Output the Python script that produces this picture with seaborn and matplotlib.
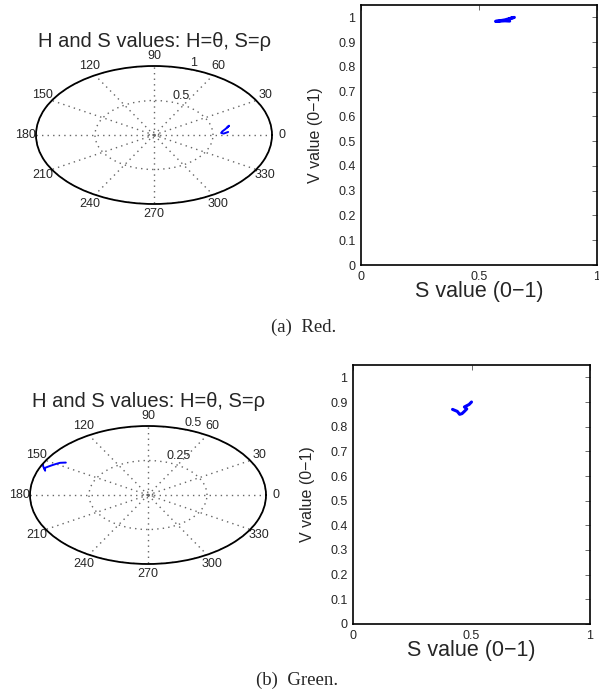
import numpy as np
import pandas as pd
import matplotlib
matplotlib.use("Agg")
import matplotlib.pyplot as plt
import seaborn as sns

# red patch: hue (deg), saturation, value along the track
red_h = [10, 12, 11, 8, 5, 3, 2, 3, 4]
red_s = [0.63, 0.65, 0.64, 0.61, 0.58, 0.57, 0.59, 0.61, 0.63]
red_v = [0.995, 1.0, 0.998, 0.99, 0.985, 0.984, 0.985, 0.986, 0.985]

# green patch
green_h = [146, 147, 148, 150, 152, 154, 156, 158, 155, 153]
green_s = [0.42, 0.43, 0.44, 0.45, 0.46, 0.47, 0.48, 0.47, 0.49, 0.50]
green_v = [0.87, 0.866, 0.862, 0.85, 0.853, 0.862, 0.872, 0.88, 0.89, 0.90]

theta_ticks = list(range(0, 360, 30))
v_ticks = [0, 0.1, 0.2, 0.3, 0.4, 0.5, 0.6, 0.7, 0.8, 0.9, 1]
s_ticks = [0, 0.5, 1]

sns.set_style("white")
plt.rcParams['font.family'] = ['Liberation Sans', 'DejaVu Sans']

BLUE = '#0000ff'
W, H = 599, 699
fig = plt.figure(figsize=(W / 100, H / 100), dpi=100)


def px_rect(x0, y0, x1, y1):
    return [x0 / W, 1 - y1 / H, (x1 - x0) / W, (y1 - y0) / H]


def polar_panel(rect, hue, sat, rmax, rings, ring_labels):
    ax = fig.add_axes(rect, projection='polar')
    df = pd.DataFrame({'theta': np.deg2rad(hue), 'r': sat})
    sns.lineplot(data=df, x='theta', y='r', sort=False, estimator=None,
                 color=BLUE, linewidth=1.4, ax=ax)
    ax.set_aspect('auto')
    ax.set_rlim(0, rmax)
    ax.set_thetagrids(theta_ticks, labels=[str(t) for t in theta_ticks], fontsize=9)
    ax.set_rgrids(rings, labels=ring_labels, angle=72, fontsize=9)
    ax.grid(True, color='#666666', linestyle=(0, (1, 3)), linewidth=1.0)
    ax.spines['polar'].set_color('black')
    ax.spines['polar'].set_linewidth(1.3)
    ax.tick_params(axis='x', pad=-3)
    ax.set_xlabel('')
    ax.set_ylabel('')
    ax.set_title('H and S values: H=\u03b8, S=\u03c1', fontsize=14.5, y=1.18,
                 va='center', pad=0)
    return ax


def sv_panel(rect, sat, val):
    ax = fig.add_axes(rect)
    df = pd.DataFrame({'S': sat, 'V': val})
    sns.lineplot(data=df, x='S', y='V', sort=False, estimator=None,
                 color=BLUE, linewidth=2.2, ax=ax)
    ax.set_xlim(0, 1)
    ax.set_ylim(0, 1.05)
    ax.set_xticks(s_ticks)
    ax.set_xticklabels(['0', '0.5', '1'])
    ax.set_yticks(v_ticks)
    ax.set_yticklabels([('%g' % v) for v in v_ticks])
    ax.tick_params(direction='in', length=3.5, width=0.6, top=True, right=True,
                   labelsize=9, pad=4, color='#555555')
    for sp in ax.spines.values():
        sp.set_color('black')
        sp.set_linewidth(1.2)
    ax.set_xlabel('S value (0\u22121)', fontsize=15.5, labelpad=-1)
    ax.set_ylabel('V value (0\u22121)', fontsize=11.5, labelpad=11)
    return ax


polar_panel(px_rect(36, 66, 272, 204), red_h, red_s, 1.0,
            [0.04, 0.5, 1.0], ['', '0.5', '1'])
sv_panel(px_rect(361, 5, 597, 265), red_s, red_v)

polar_panel(px_rect(30, 426, 266, 564), green_h, green_s, 0.5,
            [0.02, 0.25, 0.5], ['', '0.25', '0.5'])
sv_panel(px_rect(353, 365, 590, 624), green_s, green_v)

fig.text(304 / W, 1 - 327 / H, '(a)  Red.', ha='center', va='center',
         fontsize=13.5, family='Liberation Serif')
fig.text(297 / W, 1 - 680 / H, '(b)  Green.', ha='center', va='center',
         fontsize=13.5, family='Liberation Serif')

fig.savefig('out.png', dpi=100, facecolor='white')
